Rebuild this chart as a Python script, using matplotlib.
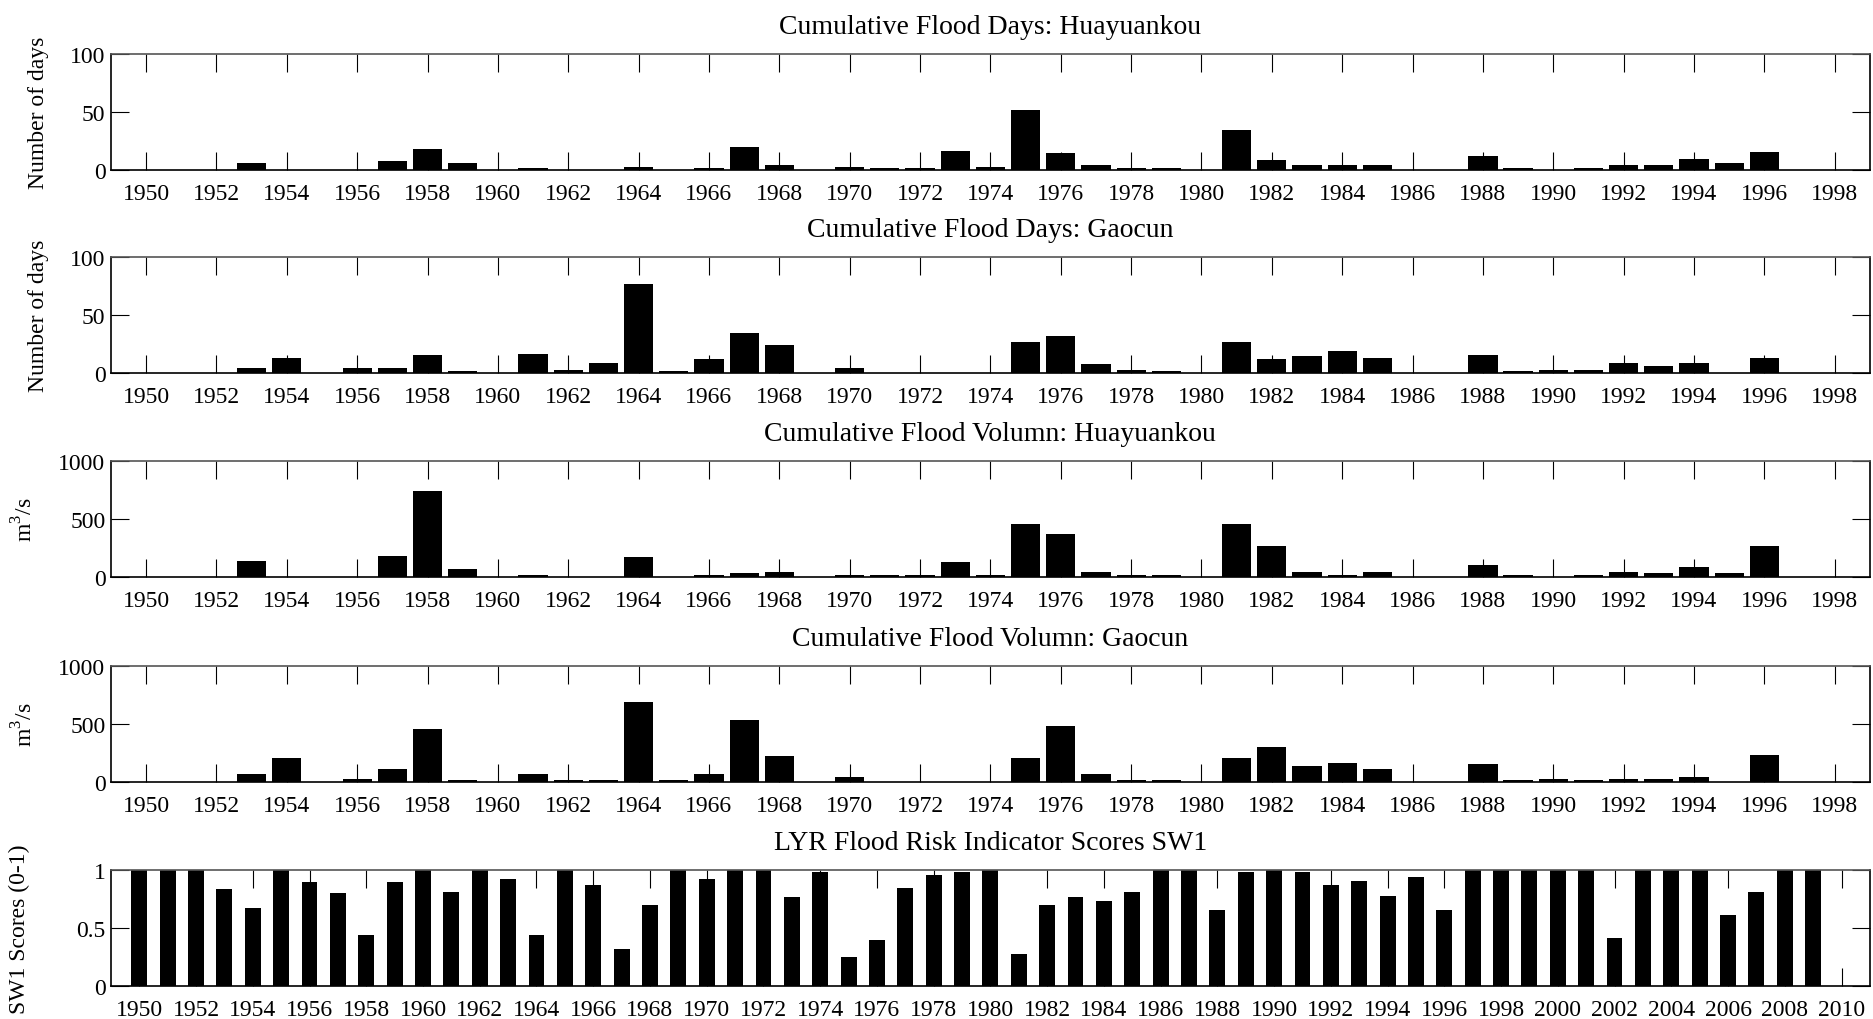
"""Flood days / flood volume bar panels for Huayuankou and Gaocun, plus SW1 scores.

Five stacked bar panels in MATLAB look. Saves to out.png.
"""

import numpy as np
from matplotlib import pyplot as plt

years = list(range(1950, 1999))
years_sw1 = list(range(1950, 2011))

hyk_days = [0, 0, 0, 6, 0, 0, 0, 8, 18, 6,
            0, 2, 0, 0, 3, 0, 2, 20, 5, 0,
            3, 2, 2, 17, 3, 52, 15, 5, 2, 2,
            0, 35, 9, 5, 5, 5, 0, 0, 12, 2,
            0, 2, 5, 5, 10, 6, 16, 0, 0]

gc_days = [0, 0, 0, 5, 13, 0, 5, 5, 16, 2,
           0, 17, 3, 9, 77, 2, 12, 35, 24, 0,
           5, 0, 0, 0, 0, 27, 32, 8, 3, 2,
           0, 27, 12, 15, 19, 13, 0, 0, 16, 2,
           3, 3, 9, 6, 9, 0, 13, 0, 0]

hyk_vol = [0, 0, 0, 144, 0, 0, 0, 187, 744, 75,
           0, 20, 0, 0, 172, 0, 20, 34, 49, 0,
           20, 20, 20, 129, 20, 457, 376, 49, 20, 20,
           0, 457, 267, 49, 20, 49, 0, 0, 103, 20,
           0, 20, 49, 34, 89, 34, 267, 0, 0]

gc_vol = [0, 0, 0, 75, 213, 0, 32, 112, 458, 17,
          0, 75, 17, 17, 689, 17, 75, 539, 225, 0,
          46, 0, 0, 0, 0, 213, 484, 75, 17, 17,
          0, 213, 308, 144, 170, 115, 0, 0, 156, 17,
          32, 17, 32, 32, 49, 0, 239, 0, 0]

sw1_scores = [1, 1, 1, 0.84, 0.67, 1, 0.90, 0.80, 0.44, 0.90,
              1, 0.81, 1, 0.92, 0.44, 1, 0.87, 0.32, 0.70, 1,
              0.92, 1, 1, 0.77, 0.98, 0.25, 0.40, 0.85, 0.96, 0.98,
              1, 0.28, 0.70, 0.77, 0.73, 0.81, 1, 1, 0.66, 0.98,
              1, 0.98, 0.87, 0.91, 0.78, 0.94, 0.66, 1, 1, 1,
              1, 1, 0.42, 1, 1, 1, 0.61, 0.81, 1, 1, 0]

titles = ["Cumulative Flood Days: Huayuankou",
          "Cumulative Flood Days: Gaocun",
          "Cumulative Flood Volumn: Huayuankou",
          "Cumulative Flood Volumn: Gaocun",
          "LYR Flood Risk Indicator Scores SW1"]
ylabels = ["Number of days", "Number of days", r"m$^3$/s", r"m$^3$/s", "SW1 Scores (0-1)"]

plt.rcParams["font.family"] = ["Liberation Serif", "DejaVu Serif"]
plt.rcParams["mathtext.fontset"] = "custom"
plt.rcParams["mathtext.rm"] = "Liberation Serif"

fig = plt.figure(figsize=(18.74, 10.2), dpi=100)

panels = [
    (years, hyk_days, 100, [0, 50, 100], 0.832, -0.035),
    (years, gc_days, 100, [0, 50, 100], 0.633, -0.035),
    (years, hyk_vol, 1000, [0, 500, 1000], 0.433, -0.042),
    (years, gc_vol, 1000, [0, 500, 1000], 0.232, -0.042),
    (years_sw1, sw1_scores, 1, [0, 0.5, 1], 0.032, -0.046),
]

for i, (x, vals, ymax, yticks, bottom, lab_x) in enumerate(panels):
    ax = fig.add_axes([0.0592, bottom, 0.9386, 0.114])
    width = 0.56 if i == 4 else 0.83
    ax.bar(x, vals, width=width, color="black", edgecolor="none", zorder=2)
    ax.set_axisbelow(True)

    ax.set_xlim(x[0] - 1, x[-1] + 1)
    ax.set_ylim(0, ymax)
    ax.set_xticks(x[::2])
    ax.set_xticklabels([str(v) for v in x[::2]])
    ax.set_yticks(yticks)
    ax.set_yticklabels(["0", "0.5", "1"] if i == 4 else [str(t) for t in yticks])

    ax.tick_params(direction="in", length=13, width=0.8, top=True, right=True,
                   labelsize=17, colors="black")
    ax.tick_params(axis="x", pad=9)
    ax.tick_params(axis="y", pad=4)
    for sp in ax.spines.values():
        sp.set_linewidth(1.2)
    ax.spines["top"].set_color("#555555")

    ax.set_title(titles[i], fontsize=20, pad=15)
    ax.set_ylabel(ylabels[i], fontsize=17)
    ax.yaxis.set_label_coords(lab_x, 0.5)

plt.savefig("out.png", dpi=100)
plt.close()
